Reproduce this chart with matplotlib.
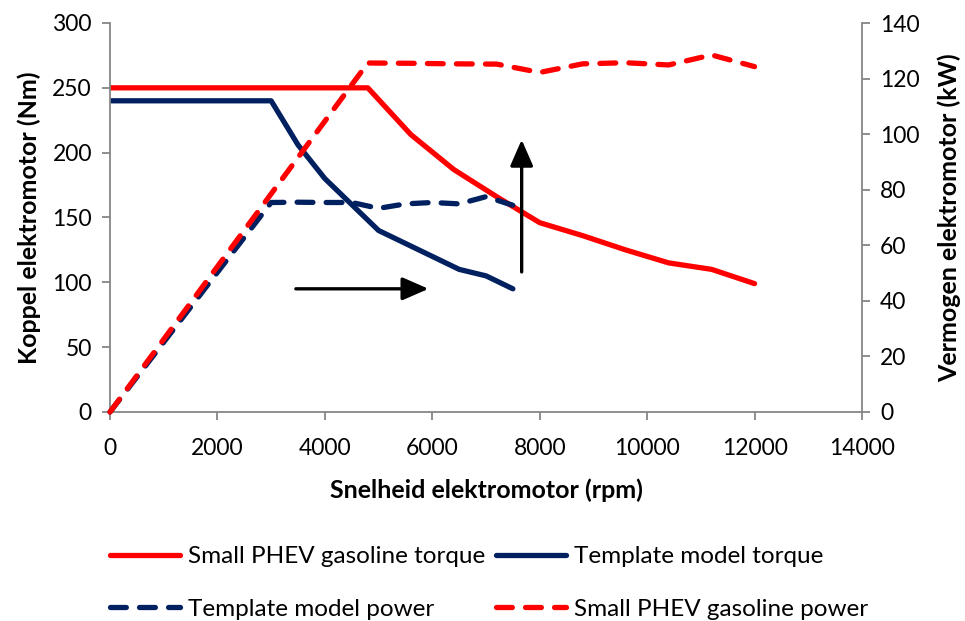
import matplotlib
matplotlib.use("Agg")
import matplotlib.pyplot as plt
from matplotlib.lines import Line2D

plt.rcParams['font.family'] = ['Lato', 'DejaVu Sans']

# ---- data ----
rpm_small = [0, 4800, 5600, 6400, 7200, 8000, 8800, 9600, 10400, 11200, 12000]
torque_small = [250, 250, 214, 187, 166, 146, 136, 125, 115, 110, 99]
power_small = [0, 125.6, 125.5, 125.3, 125.2, 122.2, 125.3, 125.7, 124.9, 128.5, 124.3]

rpm_tmpl = [0, 3000, 3500, 4000, 4500, 5000, 5500, 6000, 6500, 7000, 7500]
torque_tmpl = [240, 240, 206, 180, 160, 140, 130, 120, 110, 105, 95]
power_tmpl = [0, 75.4, 75.5, 75.4, 75.4, 73.3, 74.9, 75.4, 74.9, 77.5, 74.4]

x_ticks = [0, 2000, 4000, 6000, 8000, 10000, 12000, 14000]
y_left_ticks = [0, 50, 100, 150, 200, 250, 300]
y_right_ticks = [0, 20, 40, 60, 80, 100, 120, 140]

labels = ["Small PHEV gasoline torque", "Template model torque",
          "Template model power", "Small PHEV gasoline power"]

RED = "#FF0000"
NAVY = "#002060"
GRAY = "#868686"
LW = 3.8
DASH = (3.0, 2.5)
FS_TICK = 16.5
FS_LAB = 18
FS_LEG = 17.5

fig = plt.figure(figsize=(9.65, 6.21), dpi=100)
ax = fig.add_axes([110/965, 1-412/621, (862-110)/965, (412-23)/621])
ax2 = ax.twinx()

# torque lines (left axis)
ax.plot(rpm_tmpl, torque_tmpl, color=NAVY, lw=LW, solid_capstyle='round', solid_joinstyle='round')
ax.plot(rpm_small, torque_small, color=RED, lw=LW, solid_capstyle='round', solid_joinstyle='round')

# power lines (right axis)
ax2.plot(rpm_tmpl, power_tmpl, color=NAVY, lw=LW, linestyle=(0, DASH),
         dash_capstyle='round', dash_joinstyle='round', clip_on=False)
ax2.plot(rpm_small, power_small, color=RED, lw=LW, linestyle=(0, DASH),
         dash_capstyle='round', dash_joinstyle='round', clip_on=False)

# arrows
ax.annotate('', xy=(5930, 95), xytext=(3460, 95),
            arrowprops=dict(arrowstyle='-|>,head_length=0.8,head_width=0.35', lw=2.4,
                            color='black', shrinkA=0, shrinkB=0, mutation_scale=20))
ax.annotate('', xy=(7664, 210), xytext=(7664, 108),
            arrowprops=dict(arrowstyle='-|>,head_length=0.8,head_width=0.35', lw=2.4,
                            color='black', shrinkA=0, shrinkB=0, mutation_scale=20))

ax.set_xlim(0, 14000)
ax.set_ylim(0, 300)
ax2.set_ylim(0, 140)
ax.set_xticks(x_ticks)
ax.set_yticks(y_left_ticks)
ax2.set_yticks(y_right_ticks)

for a in (ax, ax2):
    for s in a.spines.values():
        s.set_color(GRAY)
        s.set_linewidth(1.3)
    a.spines['top'].set_visible(False)
    a.tick_params(colors=GRAY, labelcolor='black', labelsize=FS_TICK, length=6, width=1.3)
ax.spines['right'].set_visible(False)
ax2.spines['left'].set_visible(False)
ax2.spines['bottom'].set_visible(False)
ax.tick_params(axis='x', pad=13)
ax.tick_params(axis='y', pad=7)
ax2.tick_params(axis='y', pad=7)

ax.set_xlabel("Snelheid elektromotor (rpm)", fontsize=FS_LAB, fontweight='bold', labelpad=14)
ax.set_ylabel("Koppel elektromotor (Nm)", fontsize=FS_LAB, fontweight='bold', labelpad=8)
ax2.set_ylabel("Vermogen elektromotor (kW)", fontsize=FS_LAB, fontweight='bold', labelpad=13)

handles = [
    Line2D([], [], color=RED, lw=LW, solid_capstyle='round'),
    Line2D([], [], color=NAVY, lw=LW, linestyle=(0, DASH), dash_capstyle='round'),
    Line2D([], [], color=NAVY, lw=LW, solid_capstyle='round'),
    Line2D([], [], color=RED, lw=LW, linestyle=(0, DASH), dash_capstyle='round'),
]
hl = [labels[0], labels[2], labels[1], labels[3]]
fig.legend(handles, hl, loc='upper left', bbox_to_anchor=(110/965, 1-546/621),
           ncol=2, frameon=False, fontsize=FS_LEG, handlelength=2.9, handletextpad=0.3,
           columnspacing=0.45, labelspacing=1.3, borderpad=0, borderaxespad=0)

fig.savefig("out.png", dpi=100)
